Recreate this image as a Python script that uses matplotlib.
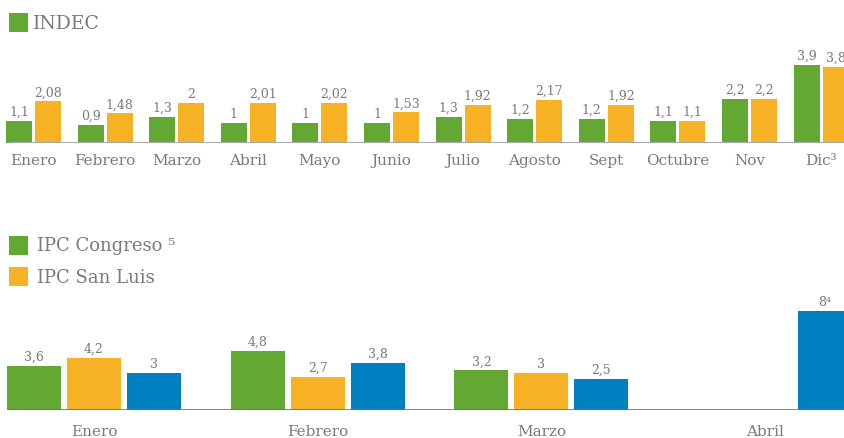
import matplotlib
matplotlib.use("Agg")
import matplotlib.pyplot as plt
import matplotlib.transforms as mtransforms
from matplotlib.patches import Rectangle
import numpy as np

plt.rcParams['font.family'] = ['DejaVu Serif', 'DejaVu Sans']

# ---- data ----
top_months = ["Enero", "Febrero", "Marzo", "Abril", "Mayo", "Junio", "Julio",
              "Agosto", "Sept", "Octubre", "Nov", "Dic\u00b3"]
indec = [1.1, 0.9, 1.3, 1, 1, 1, 1.3, 1.2, 1.2, 1.1, 2.2, 3.9]
sanluis_top = [2.08, 1.48, 2, 2.01, 2.02, 1.53, 1.92, 2.17, 1.92, 1.1, 2.2, 3.8]

bot_months = ["Enero", "Febrero", "Marzo", "Abril"]
congreso = [3.6, 4.8, 3.2, None]
sanluis_bot = [4.2, 2.7, 3, None]
third = [3, 3.8, 2.5, 8]
third_labels = ["3", "3,8", "2,5", "8\u2074"]

top_legend = ["INDEC"]
bot_legend = ["IPC Congreso \u2075", "IPC San Luis"]

GREEN = "#63a833"
ORANGE = "#f6b224"
BLUE = "#0080c1"
TXT = "#7a7a7a"

W, H = 845, 439
fig = plt.figure(figsize=(W / 100, H / 100), dpi=100)


def fmt(v):
    s = ("%g" % v).replace(".", ",")
    return s


def ax_rect(base_px, top_px):
    return [0, (H - base_px) / H, 1, (base_px - top_px) / H]


# ---- top chart ----
ax1 = fig.add_axes(ax_rect(144, 40))
c0, sp = 33.5, 71.6
ax1.set_xlim(-c0 / sp, (W - c0) / sp)
ax1.set_ylim(0, 104 / 20.0)
x = np.arange(len(top_months))
bw = 26 / sp
off = 14.5 / sp
ax1.bar(x - off, indec, bw, color=GREEN, zorder=2)
ax1.bar(x + off, sanluis_top, bw, color=ORANGE, zorder=2)
ax1.axhline(0, xmin=10 / W, xmax=1, color="#aaaaaa", lw=1.5, zorder=3)
lab_t = mtransforms.offset_copy(ax1.transData, fig, x=0, y=6, units='dots')
for i in range(len(top_months)):
    ax1.text(x[i] - off, indec[i], fmt(indec[i]), ha='center', va='baseline',
             color=TXT, fontsize=9, transform=lab_t)
    ax1.text(x[i] + off, sanluis_top[i], fmt(sanluis_top[i]), ha='center', va='baseline',
             color=TXT, fontsize=9, transform=lab_t)
mon_t = mtransforms.offset_copy(ax1.transData, fig, x=0, y=-17, units='dots')
for i, m in enumerate(top_months):
    ax1.text(x[i], 0, m, ha='center', va='center', color=TXT, fontsize=11, transform=mon_t)
ax1.axis('off')

# ---- bottom chart ----
ax2 = fig.add_axes(ax_rect(411, 300))
c0b, spb = 94, 223.7
ax2.set_xlim(-c0b / spb, (W - c0b) / spb)
ax2.set_ylim(0, 111 / 12.35)
xb = np.arange(len(bot_months))
bwb = 54 / spb
offb = 60 / spb
for i in range(len(bot_months)):
    for val, dx, col, lab in [(congreso[i], -offb, GREEN, None),
                              (sanluis_bot[i], 0, ORANGE, None),
                              (third[i], offb, BLUE, third_labels[i])]:
        if val is None:
            continue
        ax2.bar(xb[i] + dx, val, bwb, color=col, zorder=2)
lab_b = mtransforms.offset_copy(ax2.transData, fig, x=0, y=6, units='dots')
for i in range(len(bot_months)):
    for val, dx, lab in [(congreso[i], -offb, None), (sanluis_bot[i], 0, None),
                         (third[i], offb, third_labels[i])]:
        if val is None:
            continue
        ax2.text(xb[i] + dx, val, lab if lab else fmt(val), ha='center', va='baseline',
                 color=TXT, fontsize=9, transform=lab_b)
ax2.axhline(0, xmin=10 / W, xmax=1, color="#707070", lw=1.2, zorder=3)
mon_b = mtransforms.offset_copy(ax2.transData, fig, x=0, y=-21, units='dots')
for i, m in enumerate(bot_months):
    ax2.text(xb[i], 0, m, ha='center', va='center', color=TXT, fontsize=11, transform=mon_b)
ax2.axis('off')


# ---- legends ----
def square(x0, y0, size, col):
    fig.add_artist(Rectangle((x0 / W, 1 - (y0 + size) / H), size / W, size / H,
                             transform=fig.transFigure, color=col, lw=0))


square(9, 14, 19, GREEN)
fig.text(33 / W, 1 - 24 / H, top_legend[0], color=TXT, fontsize=13.5, va='center', ha='left')
square(9, 237, 19, GREEN)
fig.text(37 / W, 1 - 246 / H, bot_legend[0], color=TXT, fontsize=13, va='center', ha='left')
square(9, 268, 19, ORANGE)
fig.text(37 / W, 1 - 278 / H, bot_legend[1], color=TXT, fontsize=13, va='center', ha='left')

fig.savefig("out.png", dpi=100)
